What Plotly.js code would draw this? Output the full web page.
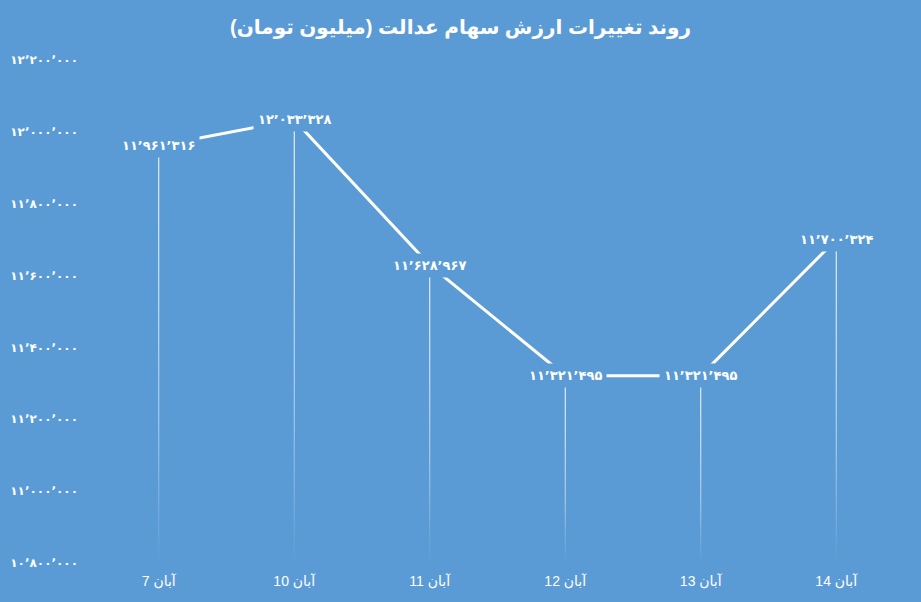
<!DOCTYPE html>
<html>
<head>
<meta charset="utf-8">
<script src="https://cdn.plot.ly/plotly-3.0.1.min.js"></script>
<style>html,body{margin:0;padding:0;background:#5B9BD5;}</style>
</head>
<body>
<div id="chart" style="width:921px;height:602px;"></div>
<script>
// ---- data ----
const categories = ["7 آبان", "10 آبان", "11 آبان", "12 آبان", "13 آبان", "14 آبان"];
const values = [11961316, 12033328, 11628967, 11321495, 11321495, 11700324];
const yTicks = [10800000, 11000000, 11200000, 11400000, 11600000, 11800000, 12000000, 12200000];
const titleText = "روند تغییرات ارزش سهام عدالت (میلیون تومان)";

// ---- helpers ----
const BG = "#5B9BD5";
const FONT = "Liberation Sans, DejaVu Sans, sans-serif";
function fa(n) {
  const d = "۰۱۲۳۴۵۶۷۸۹";
  const s = Math.round(n).toString().replace(/\B(?=(\d{3})+(?!\d))/g, "\u066C");
  return s.replace(/[0-9]/g, c => d[+c]);
}
const idx = categories.map((_, i) => i);
const yMin = yTicks[0], yMax = yTicks[yTicks.length - 1];

const traces = [];
// drop lines (gradient fading toward the bottom)
const hw = 0.0037;
values.forEach((v, i) => {
  traces.push({
    x: [i - hw, i + hw, i + hw, i - hw, i - hw],
    y: [yMin, yMin, v, v, yMin],
    mode: "none",
    fill: "toself",
    fillgradient: {
      type: "vertical",
      colorscale: [[0, "rgba(255,255,255,0)"], [0.35, "rgba(255,255,255,0.55)"], [0.7, "rgba(255,255,255,0.85)"], [1, "rgba(255,255,255,1)"]]
    },
    hoverinfo: "skip",
    showlegend: false
  });
});
// main line
traces.push({
  x: idx,
  y: values,
  mode: "lines",
  line: { color: "#FFFFFF", width: 3 },
  showlegend: false,
  hoverinfo: "skip"
});

const annotations = values.map((v, i) => ({
  x: i, y: v, xref: "x", yref: "y",
  text: fa(v),
  showarrow: false,
  bgcolor: BG,
  borderpad: 4,
  font: { family: FONT, size: 13, color: "#FFFFFF", weight: "bold" }
}));

const layout = {
  width: 921, height: 602,
  paper_bgcolor: BG, plot_bgcolor: BG,
  margin: { l: 91, r: 17, t: 60, b: 39 },
  title: {
    text: titleText,
    font: { family: FONT, size: 20, color: "#FFFFFF", weight: "bold" },
    x: 0.5, xanchor: "center", y: 0.955, yanchor: "middle"
  },
  xaxis: {
    range: [-0.5, categories.length - 0.5],
    tickvals: idx, ticktext: categories,
    showgrid: false, zeroline: false, showline: false, ticks: "",
    tickfont: { family: FONT, size: 14, color: "#FFFFFF" },
    ticklabelstandoff: 8,
    fixedrange: true
  },
  yaxis: {
    range: [yMin, yMax],
    tickvals: yTicks, ticktext: yTicks.map(fa),
    showgrid: false, zeroline: false, showline: false, ticks: "",
    tickfont: { family: FONT, size: 12, color: "#FFFFFF", weight: "bold" },
    ticklabelstandoff: 12,
    fixedrange: true
  },
  annotations: annotations,
  showlegend: false
};

Plotly.newPlot("chart", traces, layout, { displayModeBar: false, staticPlot: true });
</script>
</body>
</html>
